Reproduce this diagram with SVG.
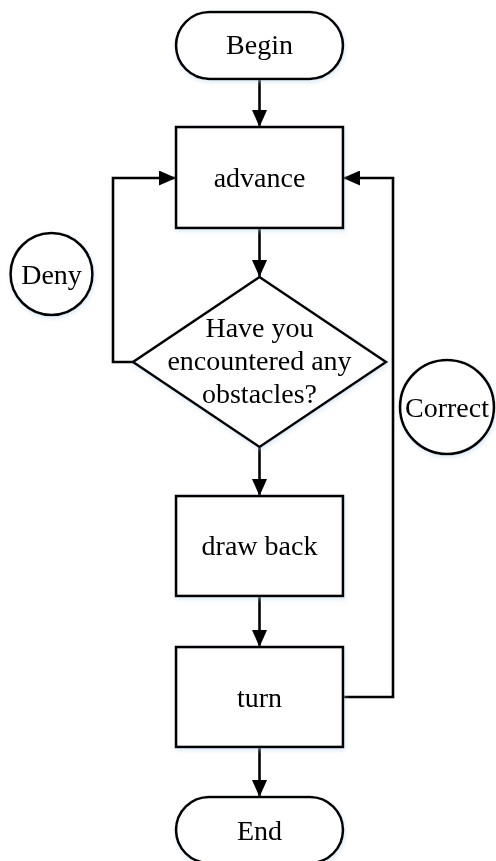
<svg xmlns="http://www.w3.org/2000/svg" width="496" height="861" viewBox="0 0 496 861">
<defs>
<marker id="arr" markerUnits="userSpaceOnUse" markerWidth="17" markerHeight="15" refX="17" refY="7.5" orient="auto">
<path d="M0,0 L17,7.5 L0,15 Z" fill="#000"/>
</marker>
<filter id="glow" x="-20%" y="-20%" width="140%" height="140%">
<feDropShadow dx="1" dy="2" stdDeviation="2" flood-color="#b9d3ee" flood-opacity="0.5"/>
</filter>
</defs>
<style>
.shape{fill:#fff;stroke:#000;stroke-width:2.6;}
.lbl{font-family:"Liberation Serif","Times New Roman",serif;font-size:28px;fill:#000;text-anchor:middle;}
.conn{fill:none;stroke:#000;stroke-width:2.6;marker-end:url(#arr);}
</style>
<rect width="496" height="861" fill="#fff"/>
<g id="connectors">
<line class="conn" x1="259.5" y1="79" x2="259.5" y2="127"/>
<line class="conn" x1="259.5" y1="228" x2="259.5" y2="277"/>
<line class="conn" x1="259.5" y1="447" x2="259.5" y2="496"/>
<line class="conn" x1="259.5" y1="596" x2="259.5" y2="647"/>
<line class="conn" x1="259.5" y1="747" x2="259.5" y2="797"/>
<polyline class="conn" points="133,362 113,362 113,178 176,178"/>
<polyline class="conn" points="343,697 393,697 393,178 343,178"/>
</g>
<g id="begin" filter="url(#glow)">
<rect class="shape" x="176" y="12" width="167" height="67" rx="33.5"/>
<text class="lbl" x="259.5" y="54">Begin</text>
</g>
<g id="advance" filter="url(#glow)">
<rect class="shape" x="176" y="127" width="167" height="101"/>
<text class="lbl" x="259.5" y="187">advance</text>
</g>
<g id="decision" filter="url(#glow)">
<polygon class="shape" points="259.5,277 386,362 259.5,447 133,362"/>
<text class="lbl" x="259.5" y="337">Have you</text>
<text class="lbl" x="259.5" y="370">encountered any</text>
<text class="lbl" x="259.5" y="403">obstacles?</text>
</g>
<g id="drawback" filter="url(#glow)">
<rect class="shape" x="176" y="496" width="167" height="100"/>
<text class="lbl" x="259.5" y="555">draw back</text>
</g>
<g id="turn" filter="url(#glow)">
<rect class="shape" x="176" y="647" width="167" height="100"/>
<text class="lbl" x="259.5" y="707">turn</text>
</g>
<g id="end" filter="url(#glow)">
<rect class="shape" x="176" y="797" width="167" height="66" rx="33"/>
<text class="lbl" x="259.5" y="840">End</text>
</g>
<g id="deny" filter="url(#glow)">
<circle class="shape" cx="51.5" cy="274" r="41"/>
<text class="lbl" x="51.5" y="284">Deny</text>
</g>
<g id="correct" filter="url(#glow)">
<circle class="shape" cx="447" cy="407" r="47"/>
<text class="lbl" x="447" y="417">Correct</text>
</g>
</svg>
